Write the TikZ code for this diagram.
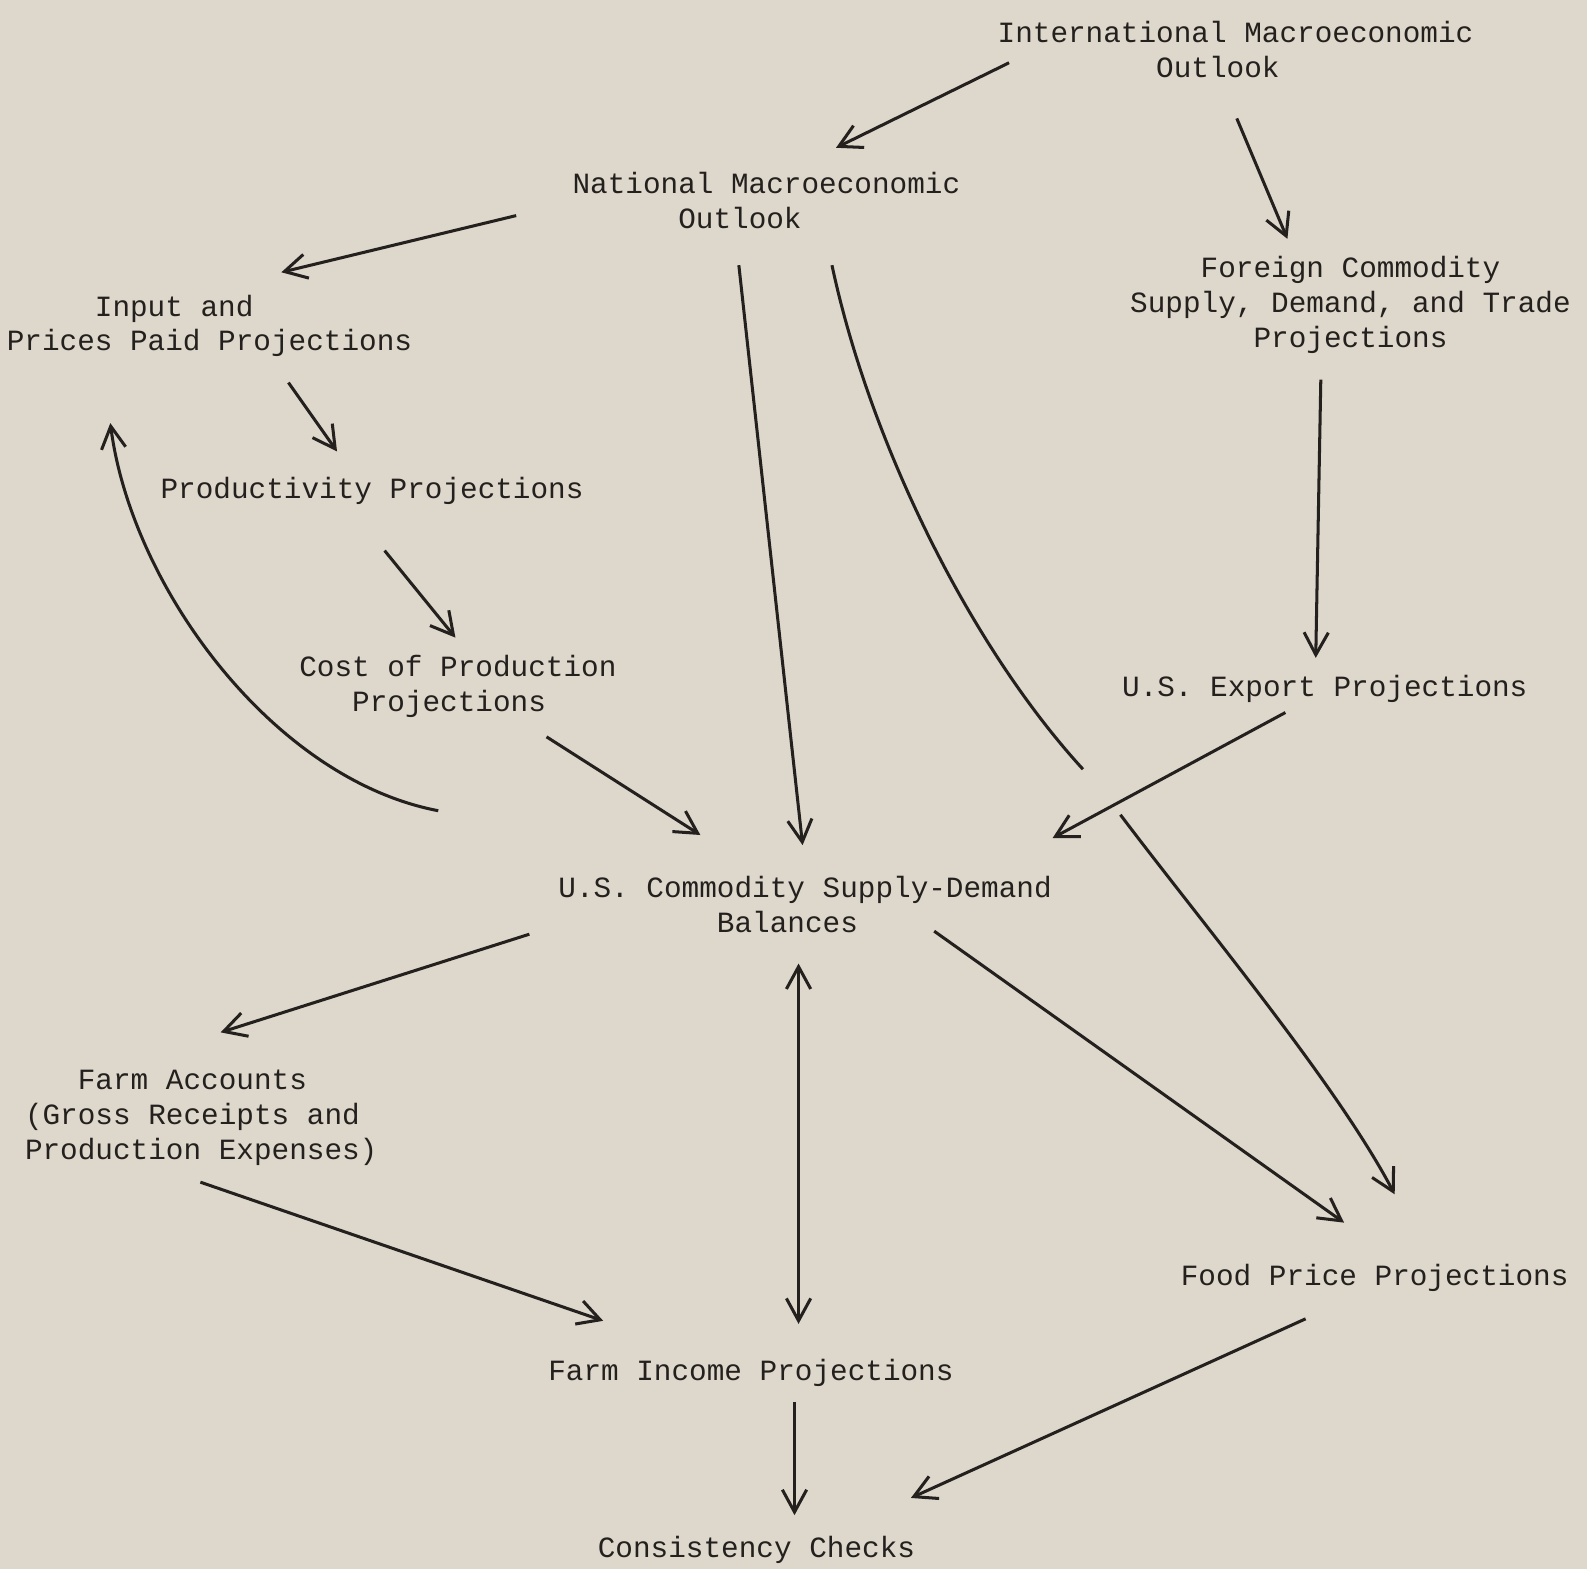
\documentclass[tikz,border=0pt]{standalone}
\usepackage{fontspec}
\setmonofont{Liberation Mono}
\usetikzlibrary{arrows.meta}
\definecolor{paper}{RGB}{221,215,204}
\definecolor{ink}{RGB}{36,32,29}
\begin{document}
\begin{tikzpicture}[x=0.01cm,y=-0.01cm,
  lbl/.style={anchor=west,inner sep=0pt,align=left,text=ink,
    font=\fontsize{8.25pt}{9.8pt}\selectfont\ttfamily},
  arr/.style={draw=ink,line width=0.85pt,-{Straight Barb[length=2.2mm,width=2.4mm]}},
  plain/.style={draw=ink,line width=0.85pt}]
\fill[paper] (0,0) rectangle (1568,1550);
\useasboundingbox (0,0) rectangle (1568,1550);

\node[lbl] (intl) at (985,48.5) {International Macroeconomic\\\hphantom{xxxxxxxxx}Outlook};
\node[lbl] (natl) at (565,198.5) {National Macroeconomic\\\hphantom{xxxxxx}Outlook};
\node[lbl] (input) at (6,322) {\hphantom{xxxxx}Input and\\Prices Paid Projections};
\node[lbl] (prod) at (158,485) {Productivity Projections};
\node[lbl] (cost) at (295,678) {Cost of Production\\\hphantom{xxx}Projections};
\node[lbl] (foreign) at (1116,301) {\hphantom{xxxx}Foreign Commodity\\Supply, Demand, and Trade\\\hphantom{xxxxxxx}Projections};
\node[lbl] (export) at (1108,681) {U.S. Export Projections};
\node[lbl] (uscomm) at (551,893.5) {U.S. Commodity Supply-Demand\\\hphantom{xxxxxxxxx}Balances};
\node[lbl] (farmacc) at (24,1104) {\hphantom{xxx}Farm Accounts\\(Gross Receipts and\\Production Expenses)};
\node[lbl] (food) at (1166,1263) {Food Price Projections};
\node[lbl] (income) at (541,1356) {Farm Income Projections};
\node[lbl] (consist) at (590,1531) {Consistency Checks};

\coordinate (gapA) at (1070,760);
\coordinate (gapB) at (1107,805);

% International -> National, Foreign
\draw[arr] ([shift={(12,13.5)}]intl.west) -- ([shift={(261,-52.5)}]natl.west);
\draw[arr] ([shift={(237,68.5)}]intl.west) -- ([shift={(156,-65)}]foreign.west);
% National -> Input, US commodity, Food price
\draw[arr] ([shift={(-55,14.5)}]natl.west) -- ([shift={(272,-53)}]input.west);
\draw[arr] ([shift={(165,63.5)}]natl.west) -- ([shift={(242,-58.5)}]uscomm.west);
\draw[plain] ([shift={(257,63.5)}]natl.west) .. controls (860,440) and (960,640) .. (gapA);
\draw[arr] (gapB) .. controls (1190,915) and (1320,1070) .. ([shift={(212,-83)}]food.west);
% Foreign -> Export
\draw[arr] ([shift={(189,74)}]foreign.west) -- ([shift={(192,-31)}]export.west);
% Input -> Productivity -> Cost -> US commodity
\draw[arr] ([shift={(279,56)}]input.west) -- ([shift={(175,-39)}]prod.west);
\draw[arr] ([shift={(222,59)}]prod.west) -- ([shift={(155,-48)}]cost.west);
\draw[arr] ([shift={(245,50)}]cost.west) -- ([shift={(141,-68.5)}]uscomm.west);
% feedback US commodity -> Input
\draw[arr] ([shift={(-118,-92.5)}]uscomm.west) .. controls (270,770) and (130,580) .. ([shift={(103,96)}]input.west);
% Export -> US commodity
\draw[arr] ([shift={(162,23)}]export.west) -- ([shift={(489,-65.5)}]uscomm.west);
% US commodity -> Farm accounts, Farm income, Food price
\draw[arr] ([shift={(-28,29.5)}]uscomm.west) -- ([shift={(194,-84)}]farmacc.west);
\draw[arr,{Straight Barb[length=2.2mm,width=2.4mm]}-{Straight Barb[length=2.2mm,width=2.4mm]}] ([shift={(238,58.5)}]uscomm.west) -- ([shift={(248,-48)}]income.west);
\draw[arr] ([shift={(372,26.5)}]uscomm.west) -- ([shift={(162,-55)}]food.west);
% Farm accounts -> Farm income
\draw[arr] ([shift={(174,64)}]farmacc.west) -- ([shift={(55,-51)}]income.west);
% -> Consistency checks
\draw[arr] ([shift={(244,29)}]income.west) -- ([shift={(195,-34)}]consist.west);
\draw[arr] ([shift={(124,40)}]food.west) -- ([shift={(310,-51)}]consist.west);
\end{tikzpicture}
\end{document}
